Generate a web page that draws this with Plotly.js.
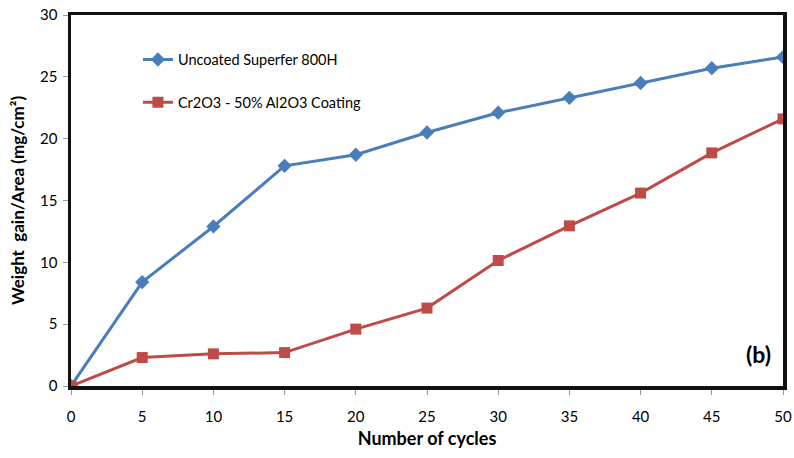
<!DOCTYPE html>
<html>
<head>
<meta charset="utf-8">
<script src="https://cdn.plot.ly/plotly-3.0.1.min.js"></script>
<style>html,body{margin:0;padding:0;background:#fff;}#chart{width:794px;height:458px;}</style>
</head>
<body>
<div id="chart"></div>
<script>
const cycles = [0, 5, 10, 15, 20, 25, 30, 35, 40, 45, 50];
const uncoated = [0, 8.4, 12.9, 17.8, 18.7, 20.5, 22.1, 23.3, 24.5, 25.7, 26.6];
const coated = [0, 2.3, 2.6, 2.7, 4.6, 6.3, 10.15, 12.95, 15.6, 18.85, 21.6];
const seriesNames = ["Uncoated Superfer 800H", "Cr2O3 - 50% Al2O3 Coating"];
const xTicks = [0, 5, 10, 15, 20, 25, 30, 35, 40, 45, 50];
const yTicks = [0, 5, 10, 15, 20, 25, 30];

const font = "Lato, 'Open Sans', sans-serif";

const traces = [
  {
    x: cycles, y: uncoated, name: seriesNames[0], type: "scatter", mode: "lines+markers",
    line: {color: "#4A7EBB", width: 3},
    marker: {symbol: "diamond", size: 11, color: "#4A7EBB"},
    legendgroup: "a"
  },
  {
    x: cycles, y: coated, name: seriesNames[1], type: "scatter", mode: "lines+markers",
    line: {color: "#BE4B48", width: 3},
    marker: {symbol: "square", size: 11, color: "#BE4B48"},
    legendgroup: "b"
  }
];

const layout = {
  width: 794, height: 458,
  margin: {l: 71, r: 11, t: 15, b: 72},
  paper_bgcolor: "#fff", plot_bgcolor: "#fff",
  font: {family: font, size: 14, color: "#000"},
  showlegend: true,
  legend: {
    x: 0.094, y: 0.923, xanchor: "left", yanchor: "top",
    bgcolor: "rgba(0,0,0,0)", borderwidth: 0,
    font: {family: font, size: 14.5, color: "#000"},
    traceorder: "grouped", tracegroupgap: 21, itemwidth: 30
  },
  xaxis: {
    range: [0, 50], tickvals: xTicks, ticktext: xTicks.map(String),
    showgrid: false, zeroline: false,
    showline: true, linewidth: 3.5, linecolor: "#111", mirror: true,
    ticks: "outside", ticklen: 5, tickcolor: "#999", tickwidth: 1,
    ticklabelstandoff: 9,
    tickfont: {family: font, size: 15, color: "#000"},
    title: {text: "<b>Number of cycles</b>", font: {family: font, size: 18, color: "#000"}, standoff: 10}
  },
  yaxis: {
    range: [0, 30], tickvals: yTicks, ticktext: yTicks.map(String),
    showgrid: false, zeroline: false,
    showline: true, linewidth: 3.5, linecolor: "#111", mirror: true,
    ticks: "outside", ticklen: 5, tickcolor: "#999", tickwidth: 1,
    ticklabelstandoff: 2,
    tickfont: {family: font, size: 15, color: "#000"},
    title: {text: "<b>Weight  gain/Area (mg/cm²)</b>", font: {family: font, size: 17, color: "#000"}, standoff: 12}
  },
  annotations: [
    {xref: "paper", yref: "paper", x: 0.965, y: 0.085, xanchor: "center", yanchor: "middle",
     text: "<b>(b)</b>", showarrow: false, font: {family: font, size: 23, color: "#000"}}
  ]
};

Plotly.newPlot("chart", traces, layout, {displayModeBar: false, staticPlot: true});
</script>
</body>
</html>
